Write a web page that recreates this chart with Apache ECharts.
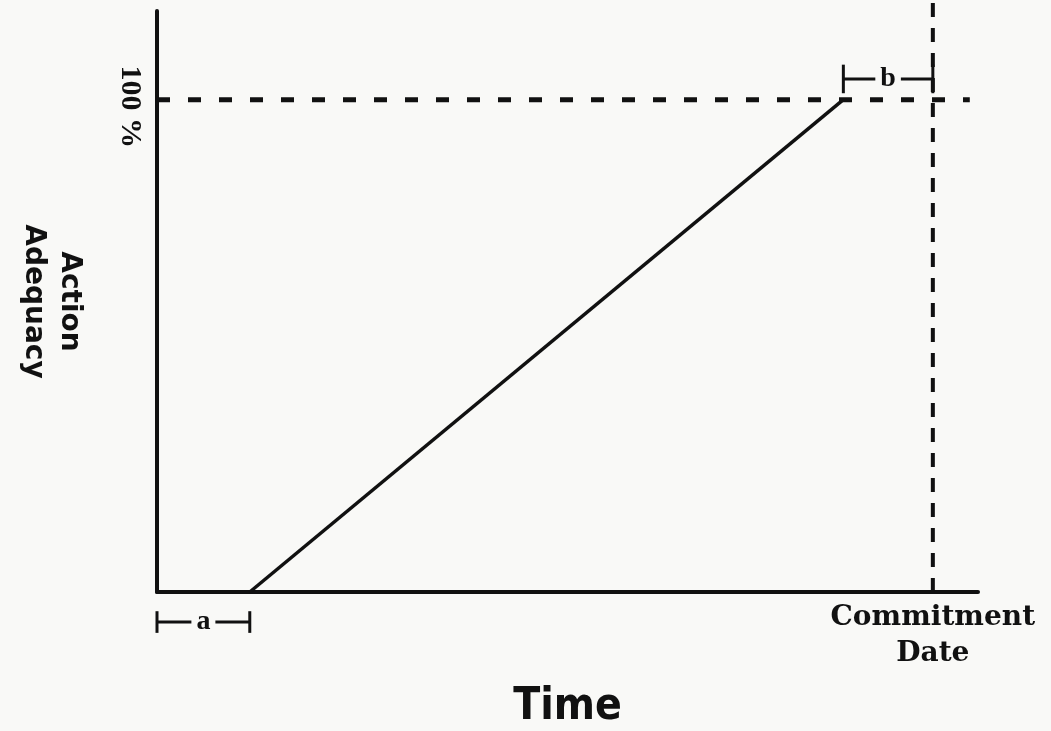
<!DOCTYPE html>
<html>
<head>
<meta charset="utf-8">
<script src="https://cdn.jsdelivr.net/npm/echarts@6/dist/echarts.min.js"></script>
<style>
  html, body { margin: 0; padding: 0; background: #f9f9f7; }
  #chart { width: 1051px; height: 731px; }
</style>
</head>
<body>
<div id="chart"></div>
<script>
// action adequacy ramps from 0 after delay "a" up to 100 %, reached "b" before the commitment date
const rampX = [11.3, 83.6]
const rampY = [0, 100]
const commitmentX = 94.5
const fullLevel = 100
const aSpan = [0, 11.3]
const bSpan = [83.6, 94.5]
const xLabels = ['Commitment\nDate']
const yLabels = ['100 %']

const chart = echarts.init(document.getElementById('chart'))
const ink = '#111'

const bracket = (span, y, cap, text) => [
  { type: 'line', data: [[span[0], y], [span[1], y]], symbol: 'none', clip: false, silent: true,
    lineStyle: { color: ink, width: 3 } },
  { type: 'line', data: [[span[0], y - cap], [span[0], y + cap]], symbol: 'none', clip: false, silent: true,
    lineStyle: { color: ink, width: 3 } },
  { type: 'line', data: [[span[1], y - cap], [span[1], y + cap]], symbol: 'none', clip: false, silent: true,
    lineStyle: { color: ink, width: 3 } },
  { type: 'scatter', data: [[(span[0] + span[1]) / 2, y]], symbolSize: 0, clip: false, silent: true, z: 5,
    itemStyle: { opacity: 1 },
    label: { show: true, position: 'inside', formatter: text, color: ink, fontFamily: 'Liberation Serif',
      fontWeight: 'bold', fontSize: 28, backgroundColor: '#f9f9f7', padding: [0, 5] } }
]

chart.setOption({
  backgroundColor: '#f9f9f7',
  animation: false,
  grid: { left: 157, right: 73, top: 11, bottom: 139, outerBoundsMode: 'none' },
  xAxis: {
    type: 'value', min: 0, max: 100,
    axisLine: { show: true, lineStyle: { color: ink, width: 4 } },
    axisTick: { show: false },
    splitLine: { show: false },
    axisLabel: {
      customValues: [commitmentX], formatter: () => xLabels[0], margin: 8,
      color: ink, fontFamily: 'DejaVu Serif', fontWeight: 'bold', fontSize: 28, lineHeight: 36
    },
    name: 'Time', nameLocation: 'middle', nameGap: 94,
    nameTextStyle: { color: ink, fontFamily: '"Liberation Sans Narrow", "DejaVu Sans Condensed"', fontWeight: 'bold', fontSize: 44 }
  },
  yAxis: {
    type: 'value', min: 0, max: 118,
    axisLine: { show: true, lineStyle: { color: ink, width: 4 } },
    axisTick: { show: false },
    splitLine: { show: false },
    axisLabel: {
      customValues: [fullLevel], formatter: () => yLabels[0], rotate: -90, margin: 12,
      padding: [0, 0, 0, 14],
      color: ink, fontFamily: 'Liberation Serif', fontWeight: 'bold', fontSize: 30
    },
    name: 'Action\nAdequacy', nameLocation: 'middle', nameRotate: -90, nameGap: 70,
    nameTextStyle: { color: ink, fontFamily: 'DejaVu Sans', fontWeight: 'bold', fontSize: 28, lineHeight: 36 }
  },
  series: [
    { type: 'line', data: [[rampX[0], rampY[0]], [rampX[1], rampY[1]]], symbol: 'none', silent: true,
      lineStyle: { color: ink, width: 3.5 }, z: 3 },
    { type: 'line', data: [[0, fullLevel], [99, fullLevel]], symbol: 'none', clip: false, silent: true,
      lineStyle: { color: ink, width: 5, type: [13, 18] } },
    { type: 'line', data: [[commitmentX, 0], [commitmentX, 121]], symbol: 'none', clip: false, silent: true,
      lineStyle: { color: ink, width: 4, type: [14, 11] } },
    ...bracket(aSpan, -6.1, 2.2, 'a'),
    ...bracket(bSpan, 104.2, 2.9, 'b')
  ]
})
</script>
</body>
</html>
